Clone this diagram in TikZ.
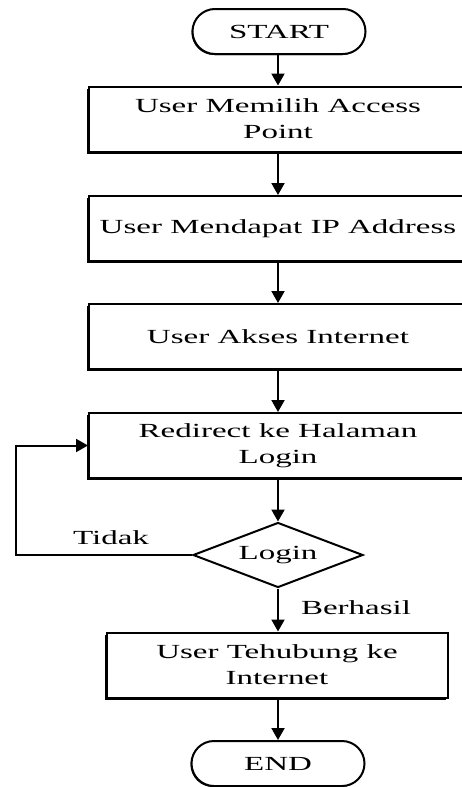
\documentclass[tikz,border=0pt]{standalone}
\usepackage{fontspec}
\setmainfont{Liberation Serif}[FakeStretch=1.65]
\usetikzlibrary{shapes.geometric,shapes.misc,arrows.meta,shadows}
\tikzset{
  proses/.style    = { draw, line width=2pt, rectangle, fill=white, align=center,
                       minimum width=378pt, minimum height=65pt, inner sep=0pt,
                       drop shadow={shadow xshift=-2pt, shadow yshift=-2pt, opacity=1, fill=black} },
  terminal/.style  = { draw, line width=2pt, rounded rectangle, fill=white,
                       minimum width=173pt, minimum height=45pt, inner sep=0pt,
                       drop shadow={shadow xshift=-1pt, shadow yshift=-1pt, opacity=1, fill=black} },
  keputusan/.style = { draw, line width=2pt, diamond, aspect=2.6, fill=white,
                       minimum width=170pt, minimum height=65pt, inner sep=0pt },
  panah/.style     = { line width=2pt, -{Triangle[length=12pt,width=13pt]} },
  ket/.style       = { inner sep=0pt }
}
\begin{document}
\begin{tikzpicture}[x=1pt,y=-1pt,font=\fontsize{20}{26}\selectfont]
\useasboundingbox (0,0) rectangle (461,787);
\node[terminal] (start) at (279,31.5) {START};
\node[proses] (pilih) at (278,119) {User Memilih Access\\Point};
\node[proses] (ip) at (278,228.5) {User Mendapat IP Address};
\node[proses] (akses) at (278,336.5) {User Akses Internet};
\node[proses] (redirect) at (278,445.5) {Redirect ke Halaman\\Login};
\node[keputusan] (login) at (278,555) {Login};
\node[proses, minimum width=341pt] (hubung) at (277,665) {User Tehubung ke\\Internet};
\node[terminal] (end) at (278,763.5) {END};
\coordinate (balik) at (16,555);
% alur utama
\draw[panah] (start.south -| pilih) -- (pilih);
\draw[panah] (pilih) -- (ip);
\draw[panah] (ip) -- (akses);
\draw[panah] (akses) -- (redirect);
\draw[panah] (redirect) -- (login);
\draw[panah] (login) -- (login |- hubung.north) node[ket, pos=0.45, right=22pt] {Berhasil};
\draw[panah] (login |- hubung.south) -- (end);
% login gagal
\draw[panah] (login.west) -- (balik) |- (redirect.west);
\node[ket] (tidak) at (111,538) {Tidak};
\end{tikzpicture}
\end{document}
